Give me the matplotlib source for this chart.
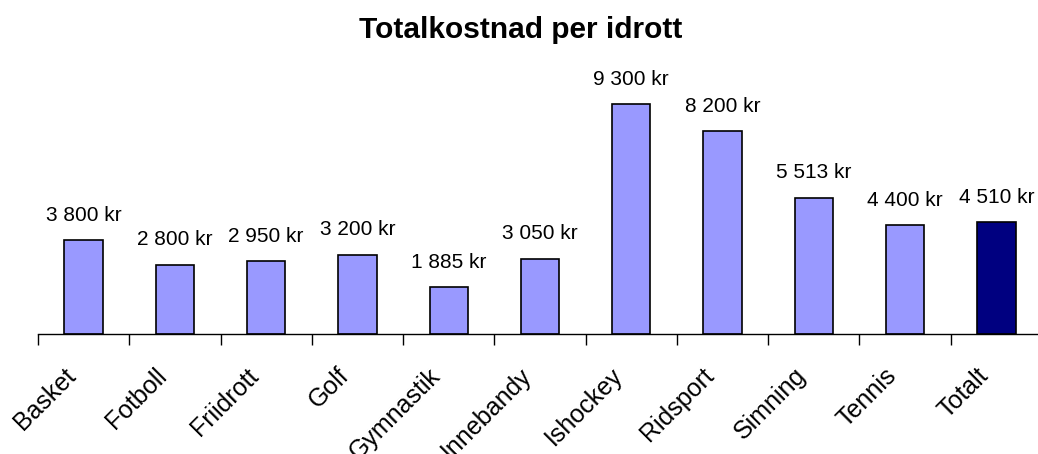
import matplotlib.pyplot as plt
from matplotlib.ticker import FixedLocator
from matplotlib.transforms import ScaledTranslation

plt.rcParams['font.family'] = ['Liberation Sans', 'DejaVu Sans']

sports = ['Basket', 'Fotboll', 'Friidrott', 'Golf', 'Gymnastik', 'Innebandy',
          'Ishockey', 'Ridsport', 'Simning', 'Tennis', 'Totalt']
costs = [3800, 2800, 2950, 3200, 1885, 3050, 9300, 8200, 5513, 4400, 4510]
labels = ['3 800 kr', '2 800 kr', '2 950 kr', '3 200 kr', '1 885 kr', '3 050 kr',
          '9 300 kr', '8 200 kr', '5 513 kr', '4 400 kr', '4 510 kr']

colors = ['#9999FF'] * (len(sports) - 1) + ['#000080']

fig = plt.figure(figsize=(10.38, 4.54), dpi=100)
ax = fig.add_axes([38 / 1038, 1 - 334 / 454, 1004 / 1038, 272 / 454])

x = list(range(len(sports)))
ax.bar(x, costs, width=0.42, color=colors, edgecolor='black', linewidth=1.2)

for xi, val, lab in zip(x, costs, labels):
    ax.annotate(lab, (xi, val), xytext=(0, 14), textcoords='offset points',
                ha='center', va='baseline', fontsize=15)

ax.set_xlim(-0.5, len(sports) - 0.5)
ax.set_ylim(0, 11000)

for side in ['left', 'right', 'top']:
    ax.spines[side].set_visible(False)
ax.spines['bottom'].set_linewidth(1.0)
ax.set_yticks([])

ax.set_xticks(x)
ax.set_xticklabels(sports, rotation=45, ha='right', va='baseline',
                   rotation_mode='anchor', fontsize=18)
ax.tick_params(axis='x', which='major', length=0, pad=31)
shift = ScaledTranslation(-7 / 100, 0, fig.dpi_scale_trans)
for tl in ax.get_xticklabels():
    tl.set_transform(tl.get_transform() + shift)
ax.xaxis.set_minor_locator(FixedLocator([i - 0.5 for i in range(len(sports) + 1)]))
ax.tick_params(axis='x', which='minor', length=8, width=1.0, direction='out')

fig.text(521 / 1038, 1 - 38 / 454, 'Totalkostnad per idrott', ha='center', va='baseline',
         fontsize=21.5, fontweight='bold')

fig.savefig('out.png', dpi=100)
